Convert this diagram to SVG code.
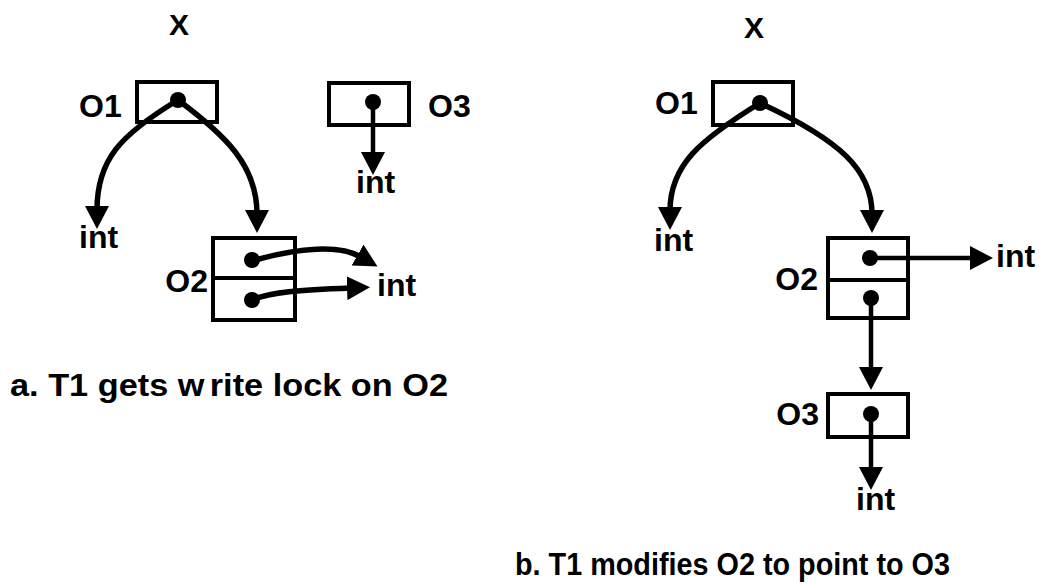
<svg xmlns="http://www.w3.org/2000/svg" width="1045" height="585" viewBox="0 0 1045 585">
<style>
text{font-family:"Liberation Sans",Arial,sans-serif;font-weight:bold;fill:#000}
.lbl{font-size:32px}
.x{font-size:30px}
.cap{font-size:32px}
.box{fill:none;stroke:#000;stroke-width:4}
.dot{fill:#000}
.arc{fill:none;stroke:#000;stroke-width:5.5;marker-end:url(#ah)}
.ln{fill:none;stroke:#000;stroke-width:4.5;marker-end:url(#ah)}
</style>
<defs>
<marker id="ah" markerUnits="userSpaceOnUse" markerWidth="24" markerHeight="24" refX="4" refY="12" orient="auto">
<path d="M0,0 L23,12 L0,24 z" fill="#000"/>
</marker>
</defs>
<rect width="1045" height="585" fill="#fff"/>

<!-- Panel a -->
<g id="a-X"><text class="x" x="179" y="35" text-anchor="middle">X</text></g>
<g id="a-O1">
<rect class="box" x="137" y="82" width="80" height="40"/>
<circle class="dot" cx="178" cy="100" r="8"/>
<text class="lbl" x="79" y="117">O1</text>
</g>
<g id="a-O3">
<rect class="box" x="329" y="83" width="80" height="42"/>
<circle class="dot" cx="373" cy="102" r="8"/>
<text class="lbl" x="428" y="117">O3</text>
</g>
<g id="a-O2">
<rect class="box" x="213" y="238" width="82" height="82"/>
<line x1="213" y1="278" x2="295" y2="278" stroke="#000" stroke-width="4"/>
<circle class="dot" cx="252" cy="260" r="8"/>
<circle class="dot" cx="252" cy="300" r="8"/>
<text class="lbl" x="208" y="292" text-anchor="end">O2</text>
</g>
<g id="a-int1"><text class="lbl" x="79" y="248">int</text></g>
<g id="a-int2"><text class="lbl" x="356" y="193">int</text></g>
<g id="a-int3"><text class="lbl" x="377" y="296">int</text></g>

<!-- Panel b -->
<g id="b-X"><text class="x" x="754" y="38" text-anchor="middle">X</text></g>
<g id="b-O1">
<rect class="box" x="713" y="82" width="80" height="43"/>
<circle class="dot" cx="760" cy="103" r="8"/>
<text class="lbl" x="655" y="114">O1</text>
</g>
<g id="b-O2">
<rect class="box" x="828" y="238" width="80" height="80"/>
<line x1="828" y1="280" x2="908" y2="280" stroke="#000" stroke-width="4"/>
<circle class="dot" cx="870" cy="258" r="8"/>
<circle class="dot" cx="871" cy="298" r="8"/>
<text class="lbl" x="818" y="290" text-anchor="end">O2</text>
</g>
<g id="b-O3">
<rect class="box" x="828" y="394" width="80" height="43"/>
<circle class="dot" cx="871" cy="414" r="8"/>
<text class="lbl" x="819" y="425" text-anchor="end">O3</text>
</g>
<g id="b-int1"><text class="lbl" x="654" y="251">int</text></g>
<g id="b-int2"><text class="lbl" x="996" y="267">int</text></g>
<g id="b-int3"><text class="lbl" x="856" y="510">int</text></g>

<!-- Connectors -->
<g id="connectors">
<path class="arc" d="M178,100 C120,135 97,160 97,210"/>
<path class="arc" d="M178,100 C225,135 257,165 257,214"/>
<path class="ln" d="M373,102 L373,156"/>
<path class="arc" d="M252,261 C300,247 340,245 361,257"/>
<path class="arc" d="M252,300 C270,292 300,290 351,288"/>
<path class="arc" d="M760,103 C700,140 670,165 670,211"/>
<path class="arc" d="M760,103 C840,140 872,170 872,214"/>
<path class="ln" d="M870,258 L974,258"/>
<path class="ln" d="M871,298 L871,371"/>
<path class="ln" d="M871,414 L871,471"/>
</g>

<!-- Captions -->
<g id="caption-a"><text class="cap" x="10" y="396" textLength="438" lengthAdjust="spacingAndGlyphs">a.  T1 gets w<tspan dx="5">rite</tspan> lock on O2</text></g>
<g id="caption-b"><text class="cap" x="515" y="575" textLength="435" lengthAdjust="spacingAndGlyphs">b.  T1 modifies O2 to point to O3</text></g>
</svg>
